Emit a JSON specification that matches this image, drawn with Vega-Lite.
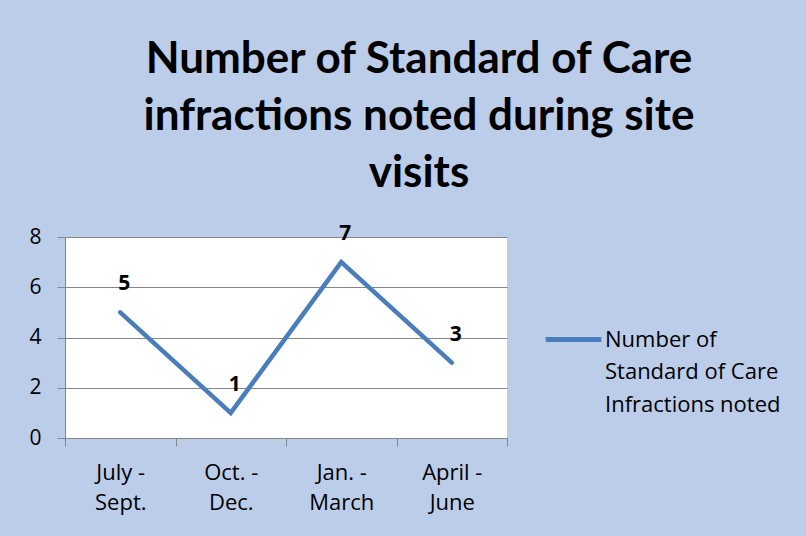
{
  "$schema": "https://vega.github.io/schema/vega-lite/v6.json",
  "width": 442,
  "height": 201,
  "autosize": {"type": "none"},
  "padding": {"left": 65, "top": 237, "right": 299, "bottom": 98},
  "background": "#BCCDEA",
  "config": {
    "view": {"fill": "white", "stroke": null},
    "font": "Open Sans",
    "style": {"guide-label": {"lineHeight": 32.5}}
  },
  "title": {
    "text": ["Number of Standard of Care", "infractions noted during site", "visits"],
    "fontSize": 44,
    "fontWeight": "bold",
    "font": "Lato",
    "lineHeight": 57,
    "anchor": "middle",
    "frame": "bounds",
    "offset": 27,
    "dx": 14,
    "color": "black"
  },
  "data": {
    "values": [
      {"period": "July - Sept.", "count": 5, "series": "Number of Standard of Care Infractions noted"},
      {"period": "Oct. - Dec.", "count": 1, "series": "Number of Standard of Care Infractions noted"},
      {"period": "Jan. - March", "count": 7, "series": "Number of Standard of Care Infractions noted"},
      {"period": "April - June", "count": 3, "series": "Number of Standard of Care Infractions noted"}
    ]
  },
  "encoding": {
    "x": {
      "field": "period",
      "type": "nominal",
      "sort": null,
      "scale": {"paddingInner": 0, "paddingOuter": 0},
      "axis": {
        "title": null,
        "labelAngle": 0,
        "labelExpr": "isValid(datum.value) ? split(replace(datum.value, '- ', '-|'), '|') : ''",
        "labelFontSize": 22,
        "labelColor": "black",
        "labelPadding": 16,
        "labelLineHeight": 30,
        "tickSize": 8,
        "tickBand": "extent",
        "tickColor": "#868686",
        "domainColor": "#868686",
        "grid": false
      }
    },
    "y": {
      "field": "count",
      "type": "quantitative",
      "scale": {"domain": [0, 8]},
      "axis": {
        "title": null,
        "values": [0, 2, 4, 6, 8],
        "labelFontSize": 21,
        "labelColor": "black",
        "labelPadding": 16,
        "tickSize": 8,
        "tickColor": "#868686",
        "domainColor": "#868686",
        "gridColor": "#868686",
        "gridOpacity": 1
      }
    }
  },
  "layer": [
    {
      "mark": {"type": "line", "strokeWidth": 4.5, "strokeCap": "round"},
      "encoding": {
        "color": {
          "field": "series",
          "type": "nominal",
          "scale": {"range": ["#4A7EBB"]},
          "legend": {
            "title": null,
            "orient": "none",
            "legendX": 478,
            "legendY": 72,
            "symbolType": "stroke",
            "symbolSize": 3100,
            "symbolStrokeWidth": 5,
            "labelFontSize": 22,
            "labelColor": "black",
            "labelLimit": 0,
            "labelOffset": 1,
            "labelExpr": "['Number of', 'Standard of Care', 'Infractions noted']"
          }
        }
      }
    },
    {
      "mark": {"type": "text", "fontWeight": "bold", "fontSize": 21, "dy": -28, "dx": 4, "color": "black"},
      "encoding": {"text": {"field": "count", "type": "quantitative"}}
    }
  ]
}
